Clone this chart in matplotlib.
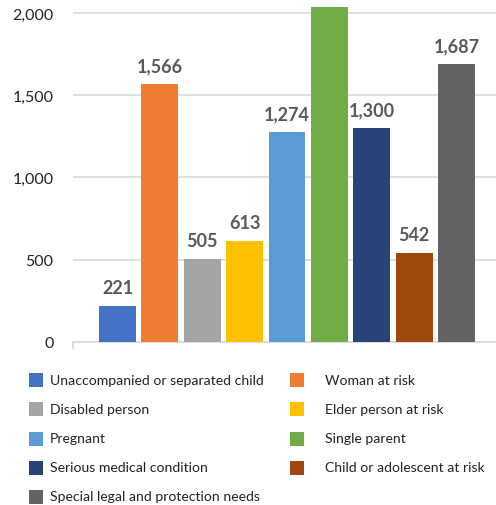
import matplotlib
matplotlib.use("Agg")
import matplotlib.pyplot as plt
from matplotlib.patches import Rectangle

categories = ["Unaccompanied or separated child", "Woman at risk", "Disabled person",
              "Elder person at risk", "Pregnant", "Single parent",
              "Serious medical condition", "Child or adolescent at risk",
              "Special legal and protection needs"]
values = [221, 1566, 505, 613, 1274, 2036, 1300, 542, 1687]
colors = ["#4472C4", "#ED7D31", "#A5A5A5", "#FFC000", "#5B9BD5", "#70AD47",
          "#264478", "#9E480E", "#636363"]
yticks = [0, 500, 1000, 1500, 2000]
ytick_labels = ["0", "500", "1,000", "1,500", "2,000"]

plt.rcParams['font.family'] = ['Lato', 'DejaVu Sans']

W, H = 496, 506
YMAX = 2036
fig = plt.figure(figsize=(W / 100, H / 100), dpi=100)
ax = fig.add_axes([73 / W, 1 - 343 / H, (496 - 73) / W, (343 - 8) / H])

x = list(range(len(values)))
ax.bar(x, values, width=0.87, color=colors, zorder=3)
ax.set_xlim(-1.05, 8.93)
ax.set_ylim(0, YMAX)
ax.set_yticks(yticks)
ax.set_yticklabels(ytick_labels, fontsize=11.5, color="#222222")
ax.tick_params(axis='y', length=0, pad=14)
ax.set_xticks([])
ax.grid(axis='y', color="#d9d9d9", linewidth=1.2, zorder=0)
for s in ["top", "right", "left"]:
    ax.spines[s].set_visible(False)
ax.spines["bottom"].set_color("#d9d9d9")
ax.spines["bottom"].set_linewidth(1.2)
ax.plot([-1.05, -1.05], [0, -35], color="#d9d9d9", lw=1.2, clip_on=False)

for xi, v in zip(x, values):
    if v >= YMAX:
        continue  # label falls outside the plot area (not shown in original)
    ax.annotate(f"{v:,}", (xi, v), xytext=(0, 7), textcoords="offset points",
                ha="center", va="bottom", fontsize=13, fontweight="bold",
                color="#595959")

# Manual legend, row-major in two columns
rows_y = [381, 410, 439.5, 468.5, 497.5]
for i, (lab, col) in enumerate(zip(categories, colors)):
    r, c = divmod(i, 2)
    yc = rows_y[r]
    mx = 29 if c == 0 else 290
    tx = 50 if c == 0 else 325
    fig.add_artist(Rectangle((mx / W, 1 - (yc + 7) / H), 14 / W, 14 / H,
                             transform=fig.transFigure, color=col, lw=0))
    fig.text(tx / W, 1 - yc / H, lab, ha="left", va="center",
             fontsize=10.1, color="#222222")

fig.savefig("out.png", dpi=100)
